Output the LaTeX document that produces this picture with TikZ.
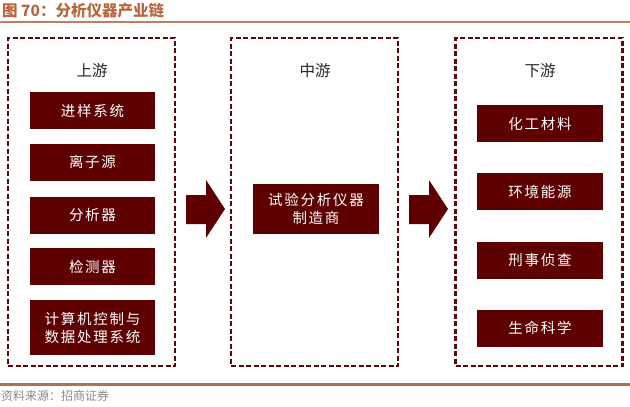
\documentclass[tikz,border=0pt]{standalone}
\usepackage{fontspec}
\newfontfamily\cjk{Noto Sans CJK SC}
\newfontfamily\cjksp[LetterSpace=12]{Noto Sans CJK SC}
\definecolor{maroon}{HTML}{5E0000}
\definecolor{dashc}{HTML}{5A0A0A}
\definecolor{titlec}{HTML}{B8683E}
\definecolor{rulec}{HTML}{C08060}
\definecolor{srcc}{HTML}{8A8A8A}
\begin{document}
\begin{tikzpicture}[x=1pt,y=-1pt,
  stage/.style={draw=dashc,line width=2.2pt,dash pattern=on 5pt off 2.5pt,minimum width=167pt,minimum height=328pt,inner sep=0pt},
  item/.style={fill=maroon,text=white,minimum width=125pt,minimum height=37pt,inner sep=0pt,align=center,font=\cjksp\fontsize{14.5}{18}\selectfont},
  head/.style={text=black!85,font=\cjk\fontsize{15.5}{18}\selectfont,inner sep=0pt},
  bigarrow/.style={fill=maroon}]
\useasboundingbox (0,0) rectangle (630,407);
\fill[white] (0,0) rectangle (630,407);
% title
\node[anchor=west,inner sep=0pt,text=titlec,font=\cjk\bfseries\fontsize{15.5}{18}\selectfont] (title) at (2,11) {图 70：分析仪器产业链};
\draw[rulec,line width=2pt] (0,22) -- (630,22);
% stages
\node[stage] (up) at (91.5,202) {};
\node[stage] (mid) at (314.5,202) {};
\node[stage] (down) at (539,202) {};
\node[head] (uph) at (92,71) {上游};
\node[head] (midh) at (315,71) {中游};
\node[head] (downh) at (540,71) {下游};
% upstream items
\node[item] (u1) at (92.5,110.5) {进样系统};
\node[item] (u2) at (92.5,162) {离子源};
\node[item] (u3) at (92.5,215) {分析器};
\node[item] (u4) at (92.5,266.5) {检测器};
\node[item,minimum height=55pt] (u5) at (92.5,327.5) {计算机控制与\\数据处理系统};
% midstream
\node[item,minimum width=126pt,minimum height=50pt] (m1) at (316,209) {试验分析仪器\\制造商};
% downstream
\node[item,minimum width=126pt] (d1) at (540,123.5) {化工材料};
\node[item,minimum width=126pt] (d2) at (540,191.5) {环境能源};
\node[item,minimum width=126pt] (d3) at (540,260) {刑事侦查};
\node[item,minimum width=126pt] (d4) at (540,328) {生命科学};
% arrows
\fill[bigarrow] (186,195) -- (206,195) -- (206,180) -- (225,209) -- (206,238) -- (206,224) -- (186,224) -- cycle;
\fill[bigarrow] (409,195) -- (429,195) -- (429,180) -- (448,209) -- (429,238) -- (429,224) -- (409,224) -- cycle;
% bottom
\draw[rulec!90!black,line width=3pt] (0,384) -- (630,384);
\node[anchor=west,inner sep=0pt,text=srcc,font=\cjk\fontsize{12}{14}\selectfont] (src) at (1,396) {资料来源：招商证券};
\end{tikzpicture}
\end{document}
